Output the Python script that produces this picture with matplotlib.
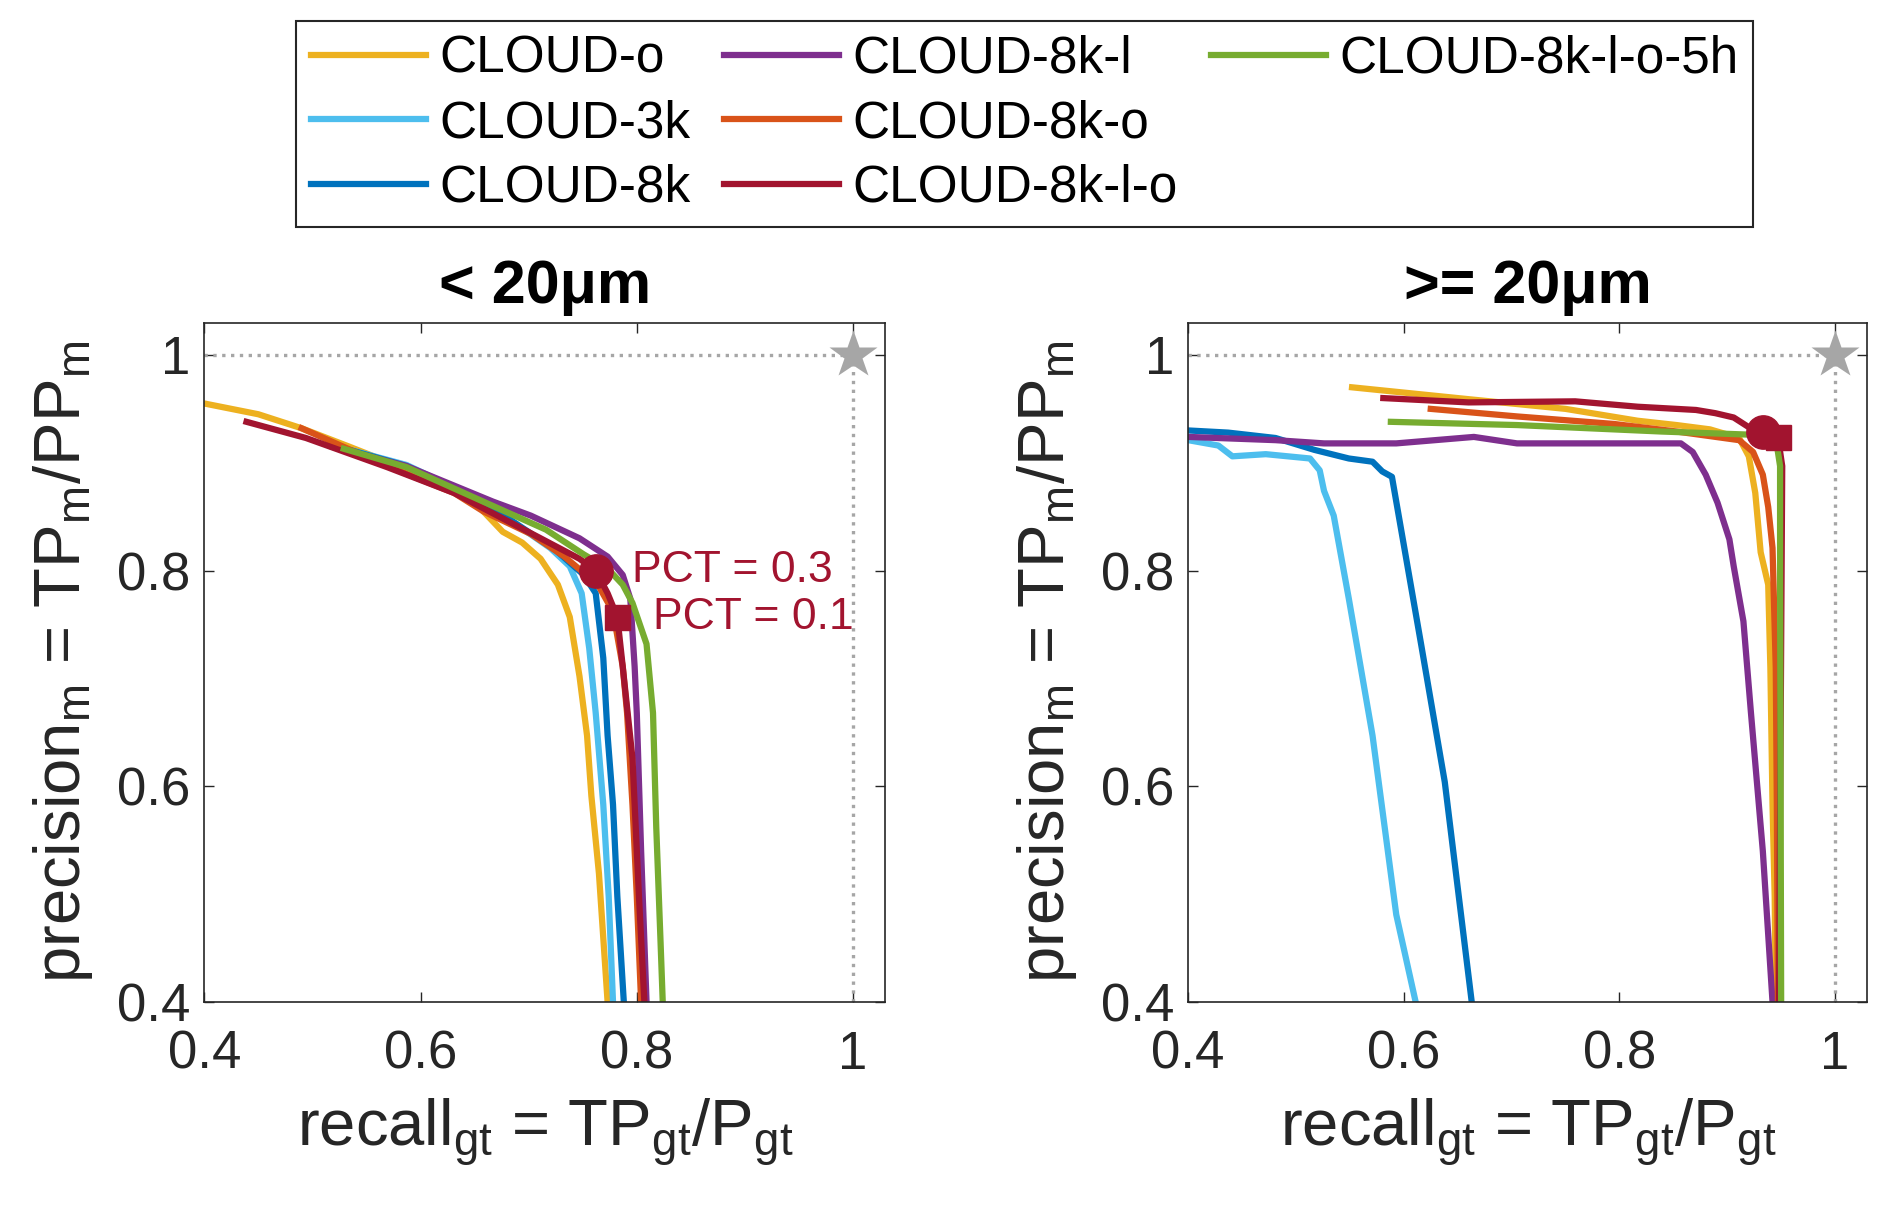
import matplotlib.pyplot as plt
from matplotlib.lines import Line2D

plt.rcParams['font.family'] = ['Liberation Sans', 'DejaVu Sans']
plt.rcParams['mathtext.fontset'] = 'custom'
plt.rcParams['mathtext.rm'] = 'Liberation Sans'
plt.rcParams['mathtext.it'] = 'Liberation Sans:italic'

names = ['CLOUD-o', 'CLOUD-3k', 'CLOUD-8k', 'CLOUD-8k-l', 'CLOUD-8k-o', 'CLOUD-8k-l-o', 'CLOUD-8k-l-o-5h']
colors = ['#EDB120', '#4DBEEE', '#0072BD', '#7E2F8E', '#D95319', '#A2142F', '#77AC30']

# ---- < 20um panel (recall, precision) ----
s_o_x = [0.40, 0.45, 0.49, 0.534, 0.587, 0.627, 0.654, 0.658, 0.676, 0.694, 0.711, 0.727, 0.738, 0.747, 0.754, 0.758, 0.765, 0.773]
s_o_y = [0.955, 0.945, 0.932, 0.915, 0.894, 0.877, 0.862, 0.855, 0.836, 0.826, 0.811, 0.787, 0.757, 0.702, 0.647, 0.591, 0.519, 0.40]
s_3k_x = [0.516, 0.587, 0.658, 0.72, 0.738, 0.749, 0.756, 0.762, 0.769, 0.774, 0.778]
s_3k_y = [0.917, 0.898, 0.864, 0.821, 0.804, 0.779, 0.728, 0.668, 0.583, 0.498, 0.40]
s_8k_x = [0.52, 0.587, 0.658, 0.725, 0.751, 0.762, 0.769, 0.773, 0.778, 0.782, 0.788]
s_8k_y = [0.916, 0.897, 0.864, 0.819, 0.796, 0.779, 0.719, 0.647, 0.583, 0.498, 0.40]
s_8kl_x = [0.518, 0.587, 0.667, 0.702, 0.747, 0.773, 0.787, 0.794, 0.798, 0.80, 0.804, 0.809]
s_8kl_y = [0.915, 0.897, 0.864, 0.851, 0.830, 0.813, 0.796, 0.774, 0.711, 0.668, 0.540, 0.40]
s_8ko_x = [0.49, 0.569, 0.631, 0.658, 0.702, 0.733, 0.764, 0.778, 0.787, 0.791, 0.796, 0.80, 0.804]
s_8ko_y = [0.932, 0.897, 0.872, 0.855, 0.834, 0.813, 0.787, 0.762, 0.711, 0.668, 0.583, 0.498, 0.40]
s_8klo_x = [0.439, 0.494, 0.569, 0.631, 0.711, 0.747, 0.762, 0.773, 0.782, 0.787, 0.796, 0.802, 0.807]
s_8klo_y = [0.938, 0.923, 0.896, 0.872, 0.830, 0.811, 0.800, 0.779, 0.757, 0.711, 0.626, 0.498, 0.40]
s_5h_x = [0.529, 0.587, 0.658, 0.716, 0.751, 0.773, 0.787, 0.796, 0.809, 0.815, 0.818, 0.822, 0.824]
s_5h_y = [0.913, 0.896, 0.864, 0.838, 0.815, 0.802, 0.787, 0.770, 0.732, 0.668, 0.562, 0.455, 0.40]

# ---- >= 20um panel ----
l_o_x = [0.552, 0.66, 0.75, 0.817, 0.853, 0.884, 0.911, 0.92, 0.926, 0.931, 0.938, 0.94, 0.942, 0.944, 0.945]
l_o_y = [0.970, 0.959, 0.950, 0.939, 0.935, 0.931, 0.923, 0.906, 0.872, 0.817, 0.787, 0.710, 0.583, 0.498, 0.40]
l_3k_x = [0.40, 0.428, 0.441, 0.472, 0.513, 0.522, 0.526, 0.535, 0.549, 0.571, 0.593, 0.611]
l_3k_y = [0.921, 0.916, 0.906, 0.908, 0.904, 0.893, 0.874, 0.851, 0.774, 0.647, 0.481, 0.40]
l_8k_x = [0.40, 0.437, 0.481, 0.517, 0.549, 0.571, 0.58, 0.589, 0.616, 0.638, 0.663]
l_8k_y = [0.930, 0.928, 0.923, 0.912, 0.904, 0.901, 0.892, 0.887, 0.732, 0.604, 0.40]
l_8kl_x = [0.40, 0.481, 0.526, 0.593, 0.665, 0.705, 0.772, 0.857, 0.868, 0.88, 0.891, 0.902, 0.906, 0.915, 0.922, 0.933, 0.942]
l_8kl_y = [0.924, 0.921, 0.918, 0.918, 0.924, 0.918, 0.918, 0.918, 0.910, 0.889, 0.863, 0.829, 0.804, 0.753, 0.668, 0.540, 0.40]
l_8ko_x = [0.625, 0.705, 0.795, 0.853, 0.911, 0.924, 0.933, 0.938, 0.942, 0.945, 0.946, 0.947]
l_8ko_y = [0.950, 0.943, 0.936, 0.929, 0.921, 0.910, 0.889, 0.859, 0.821, 0.710, 0.583, 0.40]
l_8klo_x = [0.581, 0.66, 0.759, 0.817, 0.871, 0.889, 0.906, 0.92, 0.933, 0.947, 0.951, 0.948]
l_8klo_y = [0.960, 0.956, 0.957, 0.952, 0.949, 0.946, 0.942, 0.933, 0.930, 0.924, 0.897, 0.40]
l_5h_x = [0.588, 0.705, 0.839, 0.924, 0.945, 0.949, 0.949, 0.95]
l_5h_y = [0.938, 0.935, 0.929, 0.926, 0.923, 0.897, 0.795, 0.40]

small = [(s_o_x, s_o_y), (s_3k_x, s_3k_y), (s_8k_x, s_8k_y), (s_8kl_x, s_8kl_y),
         (s_8ko_x, s_8ko_y), (s_8klo_x, s_8klo_y), (s_5h_x, s_5h_y)]
large = [(l_o_x, l_o_y), (l_3k_x, l_3k_y), (l_8k_x, l_8k_y), (l_8kl_x, l_8kl_y),
         (l_8ko_x, l_8ko_y), (l_8klo_x, l_8klo_y), (l_5h_x, l_5h_y)]

# PCT operating points (recall, precision)
small_pct03 = (0.762, 0.800)
small_pct01 = (0.782, 0.757)
large_pct03 = (0.933, 0.929)
large_pct01 = (0.947, 0.924)

ticks = [0.4, 0.6, 0.8, 1.0]
tick_labels = ['0.4', '0.6', '0.8', '1']
txt = '#262626'
mark = '#A2142F'

fig = plt.figure(figsize=(18.92, 12.11), dpi=100)
ax1 = fig.add_axes([0.108, 0.1726, 0.360, 0.561])
ax2 = fig.add_axes([0.628, 0.1726, 0.359, 0.561])

for ax, data, p3, p1, title in [(ax1, small, small_pct03, small_pct01, '< 20μm'),
                                (ax2, large, large_pct03, large_pct01, '>= 20μm')]:
    ax.plot([0.4, 1.0], [1.0, 1.0], ':', color='#A6A6A6', lw=2.4)
    ax.plot([1.0, 1.0], [0.4, 1.0], ':', color='#A6A6A6', lw=2.4)
    ax.plot([1.0], [1.0], '*', color='#A6A6A6', ms=36, mec='none')
    for (xs, ys), c, n in zip(data, colors, names):
        ax.plot(xs, ys, color=c, lw=4.5, label=n)
    ax.plot([p3[0]], [p3[1]], 'o', color=mark, ms=24)
    ax.plot([p1[0]], [p1[1]], 's', color=mark, ms=18)
    ax.set_xlim(0.4, 1.03)
    ax.set_ylim(0.4, 1.03)
    ax.set_xticks(ticks)
    ax.set_xticklabels(tick_labels)
    ax.set_yticks(ticks)
    ax.set_yticklabels(tick_labels)
    ax.tick_params(direction='in', top=True, right=True, length=7, width=1,
                   labelsize=38, colors=txt)
    ax.tick_params(axis='x', pad=20)
    ax.tick_params(axis='y', pad=10)
    for sp in ax.spines.values():
        sp.set_color(txt)
        sp.set_linewidth(1.2)
    ax.set_title(title, fontsize=44, fontweight='bold', pad=14)
    ax.set_xlabel(r'recall$_{\mathrm{gt}}$ = TP$_{\mathrm{gt}}$/P$_{\mathrm{gt}}$', fontsize=47, color=txt, labelpad=12)
    ax.set_ylabel(r'precision$_{\mathrm{m}}$ = TP$_{\mathrm{m}}$/PP$_{\mathrm{m}}$', fontsize=47, color=txt, labelpad=16)

ax1.text(small_pct03[0] + 0.034, small_pct03[1], 'PCT = 0.3', color=mark, fontsize=32, va='center')
ax1.text(small_pct01[0] + 0.033, small_pct01[1], 'PCT = 0.1', color=mark, fontsize=32, va='center')

handles, labels = ax1.get_legend_handles_labels()
blank = Line2D([], [], color='none')
handles = handles + [blank, blank]
labels = labels + ['', '']
leg = fig.legend(handles, labels, loc='upper center', bbox_to_anchor=(0.5415, 0.983), ncol=3,
                 fontsize=37, handlelength=2.25, handletextpad=0.25, columnspacing=0.65,
                 labelspacing=0.3, borderpad=0.28, borderaxespad=0, fancybox=False, framealpha=1,
                 edgecolor='#262626')
leg.get_frame().set_linewidth(1.5)

fig.savefig('out.png', dpi=100)
